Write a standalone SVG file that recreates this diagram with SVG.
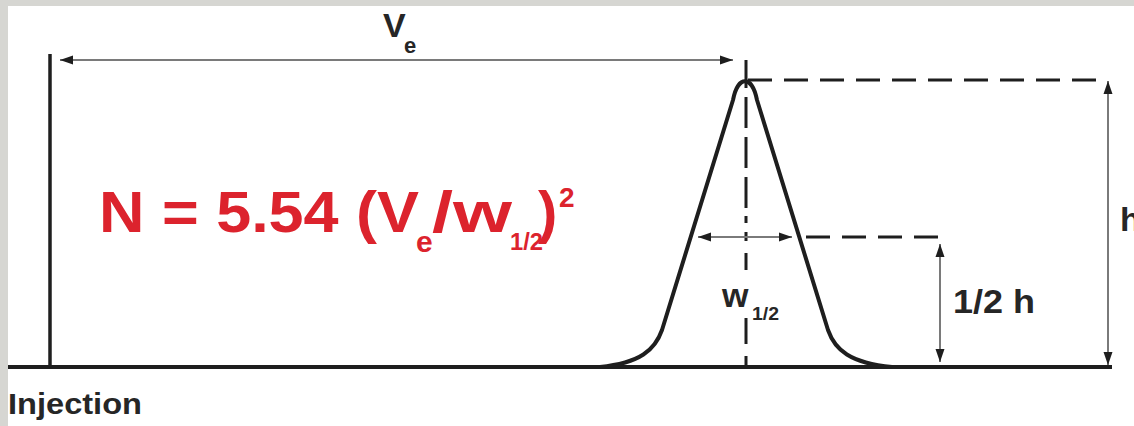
<svg xmlns="http://www.w3.org/2000/svg" width="1134" height="426" viewBox="0 0 1134 426">
<style>
.lbl{font-family:"Liberation Sans",Arial,sans-serif;font-weight:bold;fill:#262626}
.red{font-family:"Liberation Sans",Arial,sans-serif;font-weight:bold;fill:#dc232d}
.solid{stroke:#1e1e1e;fill:none;stroke-linecap:butt}
.dash{stroke:#1e1e1e;stroke-width:3;fill:none}
.dim{stroke:#7a7a7a;stroke-width:2;fill:none;marker-start:url(#ah);marker-end:url(#ah)}
</style>
<defs>
<marker id="ah" markerUnits="userSpaceOnUse" markerWidth="14" markerHeight="10" refX="13" refY="4.5" orient="auto-start-reverse" viewBox="0 0 14 9"><path d="M0,0 L13,4.5 L0,9 z" fill="#1e1e1e"/></marker>
</defs>
<rect width="1134" height="426" fill="#d6d6d2"/>
<rect x="8" y="6" width="1126" height="420" fill="#ffffff"/>

<g id="axes">
<line class="solid" x1="50" y1="54" x2="50" y2="367" stroke-width="3.5"/>
<line class="solid" x1="8" y1="367" x2="1112" y2="367" stroke-width="4"/>
</g>

<g id="peak">
<path class="solid" stroke-width="4" stroke-linejoin="round" d="M600 367 C640 363 655 350 662 330 L733 100 C738 75 752 75 757 100 L828 330 C835 350 850 363 892 367"/>
</g>

<g id="connectors">
<path class="dash" d="M746 60 V88 M746 97 V128 M746 137 V168 M746 177 V208 M746 216 V223 M746 232 V241 M746 253 V270 M746 318 V344 M746 356 V367"/>
<line class="dash" x1="748" y1="80" x2="1097" y2="80" stroke-dasharray="24 12"/>
<line class="dash" x1="806" y1="237" x2="940" y2="237" stroke-dasharray="24 12"/>
<line class="dim" x1="60" y1="60" x2="733" y2="60"/>
<line class="dim" x1="1108" y1="81" x2="1108" y2="365"/>
<line class="dim" x1="940" y1="244" x2="940" y2="362"/>
<line class="dim" x1="698" y1="237" x2="792" y2="237"/>
</g>

<g id="label-ve">
<text class="lbl" x="383" y="37" font-size="34">V</text>
<text class="lbl" x="404" y="53" font-size="22">e</text>
</g>

<g id="formula">
<text class="red" x="99" y="232" font-size="58" textLength="320" lengthAdjust="spacingAndGlyphs">N = 5.54 (V</text>
<text class="red" x="416" y="252" font-size="30">e</text>
<text class="red" x="432" y="232" font-size="58" textLength="80" lengthAdjust="spacingAndGlyphs">/w</text>
<text class="red" x="510" y="250" font-size="24" textLength="33" lengthAdjust="spacingAndGlyphs">1/2</text>
<text class="red" x="538" y="232" font-size="58">)</text>
<text class="red" x="559" y="207" font-size="28">2</text>
</g>

<g id="label-h">
<text class="lbl" x="1120" y="231" font-size="34">h</text>
</g>

<g id="label-half-h">
<text class="lbl" x="953" y="313" font-size="34" textLength="82" lengthAdjust="spacingAndGlyphs">1/2 h</text>
</g>

<g id="label-w">
<text class="lbl" x="722" y="307" font-size="34">w</text>
<text class="lbl" x="752" y="320" font-size="18" textLength="27" lengthAdjust="spacingAndGlyphs">1/2</text>
</g>

<g id="label-injection">
<text class="lbl" x="8" y="414" font-size="30" textLength="134" lengthAdjust="spacingAndGlyphs">Injection</text>
</g>
</svg>
